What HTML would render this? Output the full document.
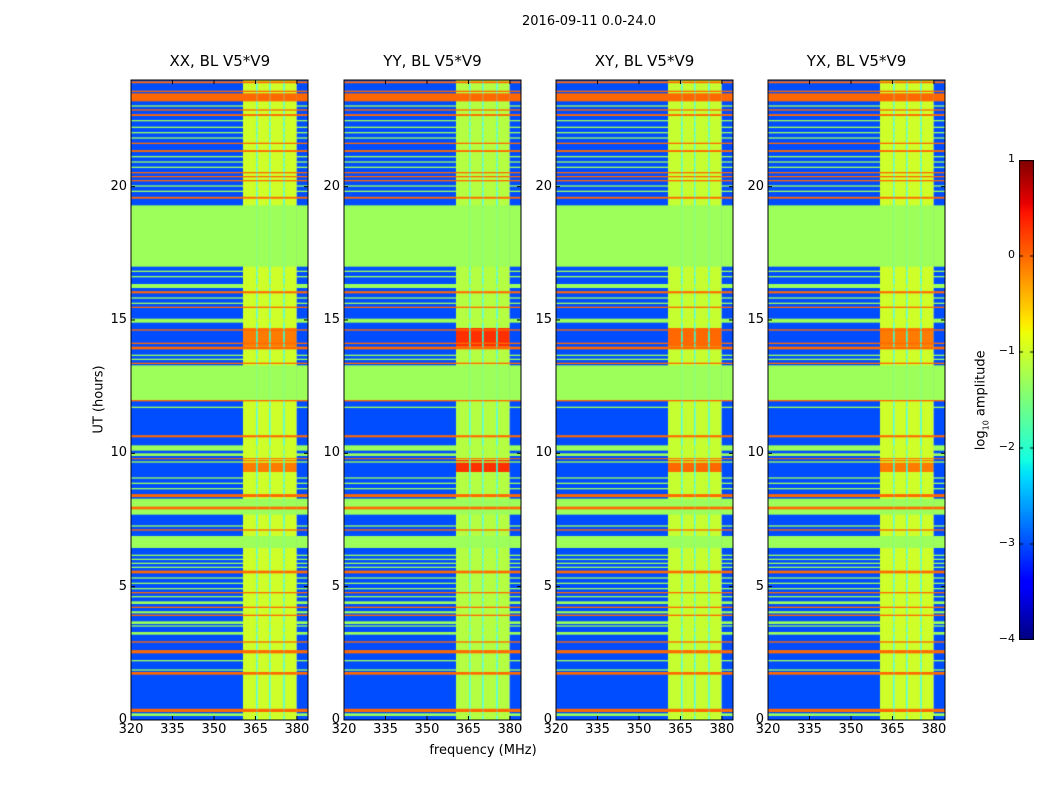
<!DOCTYPE html>
<html><head><meta charset="utf-8">
<style>
body{margin:0;background:#fff;width:1050px;height:800px;overflow:hidden;position:relative;font-family:"DejaVu Sans","Liberation Sans",sans-serif;color:#000}
.t{position:absolute;white-space:nowrap}
canvas{position:absolute}
</style></head><body>
<div class="t" style="left:489px;top:14px;width:200px;text-align:center;font-size:13px">2016-09-11 0.0-24.0</div>
<div class="t" style="left:49px;top:392px;width:100px;text-align:center;font-size:13px;transform:rotate(-90deg)">UT (hours)</div>
<div class="t" style="left:383px;top:743px;width:200px;text-align:center;font-size:13px">frequency (MHz)</div>
<div class="t" style="left:922px;top:392px;width:120px;text-align:center;font-size:13px;transform:rotate(-90deg)">log<sub style="font-size:8px">10</sub> amplitude</div>
<div id="root"></div>
<script>
// ---- data ----
const panelTitles = ["XX, BL V5*V9","YY, BL V5*V9","XY, BL V5*V9","YX, BL V5*V9"];
const panelLefts = [131,344,556,768];
const xTicks = [320,335,350,365,380];
const yTicks = [0,5,10,15,20];
const cbTicks = [1,0,-1,-2,-3,-4];
const bands = [[360.5,365.3],[365.8,370.0],[370.5,375.1],[375.6,379.9]];
const noiseLevel = -3.0;
const gapLevel = -2.1;
const bandLevel = [-1.0,-1.15,-1.05,-1.0];
const hotLevel = [-0.1,0.3,0.0,-0.1];
// segments: [startHour, endHour, type]  g=green line, G=green block, o=orange, h=hot band
const segments = [
[0.15,0.25,'g'],[0.3,0.42,'o'],[1.7,1.8,'o'],[1.85,1.9,'g'],[2.2,2.25,'g'],[2.5,2.62,'o'],[2.9,2.95,'o'],
[3.2,3.3,'g'],[3.5,3.55,'g'],[3.6,3.7,'g'],[3.9,3.95,'o'],[4.0,4.08,'g'],[4.2,4.25,'o'],[4.35,4.45,'g'],
[4.6,4.65,'g'],[4.75,4.8,'o'],[4.9,4.95,'g'],[5.1,5.15,'g'],[5.3,5.35,'g'],[5.5,5.6,'o'],[5.7,5.75,'g'],
[5.85,5.9,'g'],[6.0,6.05,'g'],[6.15,6.2,'g'],[6.45,6.9,'G'],[7.1,7.15,'o'],[7.25,7.3,'g'],[7.7,8.3,'G'],
[7.9,8.0,'o'],[8.36,8.47,'o'],[8.65,8.7,'g'],[8.85,8.9,'g'],[9.05,9.1,'g'],[9.3,9.75,'h'],[9.65,9.7,'g'],
[9.78,9.82,'o'],[9.9,10.0,'g'],[10.1,10.3,'g'],[10.6,10.68,'o'],[11.7,11.75,'g'],[11.95,12.0,'o'],
[12.0,13.3,'G'],[13.35,13.4,'o'],[13.5,13.55,'g'],[13.65,13.7,'g'],[14.0,14.7,'h'],[13.9,14.0,'o'],
[14.1,14.15,'o'],[14.6,14.65,'o'],[14.9,15.05,'g'],[15.45,15.5,'o'],[15.6,15.65,'g'],[15.8,15.85,'g'],
[16.0,16.08,'o'],[16.2,16.35,'g'],[16.6,16.65,'g'],[16.8,16.85,'g'],[17.0,19.3,'G'],[19.55,19.62,'o'],
[19.8,19.85,'g'],[20.0,20.05,'g'],[20.2,20.25,'o'],[20.35,20.4,'o'],[20.5,20.55,'o'],[20.7,20.75,'g'],
[20.9,20.95,'g'],[21.1,21.15,'g'],[21.3,21.37,'o'],[21.6,21.65,'o'],[21.8,21.85,'g'],[22.0,22.05,'g'],
[22.2,22.25,'g'],[22.45,22.5,'g'],[22.65,22.72,'o'],[22.85,22.9,'o'],[23.0,23.05,'g'],[23.2,23.5,'o'],
[23.55,23.6,'o'],[23.88,23.95,'o']
];
const greenLevel = -1.3, orangeLevel = 0.0;

// ---- scales ----
const TOP=80, H=640, W=177, F0=320, F1=384, T0=0, T1=24;
const xs = f => (f-F0)/(F1-F0)*W;
const ys = h => H - (h-T0)/(T1-T0)*H;
const VMIN=-4, VMAX=1;
const JR=[[0,0],[0.35,0],[0.66,1],[0.89,1],[1,0.5]];
const JG=[[0,0],[0.125,0],[0.375,1],[0.64,1],[0.91,0],[1,0]];
const JB=[[0,0.5],[0.11,1],[0.34,1],[0.65,0],[1,0]];
function interp(seg,t){for(let i=1;i<seg.length;i++){if(t<=seg[i][0]){const a=seg[i-1],b=seg[i];return a[1]+(b[1]-a[1])*(t-a[0])/(b[0]-a[0]);}}return seg[seg.length-1][1];}
function jet(v){
  const t=Math.max(0,Math.min(1,(v-VMIN)/(VMAX-VMIN)));
  return `rgb(${Math.round(interp(JR,t)*255)},${Math.round(interp(JG,t)*255)},${Math.round(interp(JB,t)*255)})`;
}
const root=document.getElementById('root');
function txt(name,x,y,s,align,size){
  const d=document.createElement('div');d.className='t';
  
  
  d.style.fontSize=(size||13)+'px';
  d.style.top=(y-8)+'px';
  if(align==='r'){d.style.left=(x-60)+'px';d.style.width='60px';d.style.textAlign='right';}
  else {d.style.left=(x-50)+'px';d.style.width='100px';d.style.textAlign='center';}
  d.textContent=s;root.appendChild(d);
}
function cellVal(type,cls,p){
  if(type==='o') return orangeLevel;
  if(type==='G') return greenLevel;
  if(type==='g') return cls==='band'?bandLevel[p]:greenLevel;
  if(type==='h') return cls==='band'?hotLevel[p]:(cls==='gap'?gapLevel:noiseLevel);
  return cls==='band'?bandLevel[p]:(cls==='gap'?gapLevel:noiseLevel);
}
panelTitles.forEach((title,p)=>{
  const L=panelLefts[p];
  const cv=document.createElement('canvas');
  cv.width=W;cv.height=H;cv.style.left=L+'px';cv.style.top=TOP+'px';
  
  
  root.appendChild(cv);
  const ctx=cv.getContext('2d');
  const regions=[];
  let prev=F0;
  bands.forEach((b,i)=>{
    regions.push([prev,b[0],i===0?'noise':'gap']);
    regions.push([b[0],b[1],'band']);
    prev=b[1];
  });
  regions.push([prev,F1,'noise']);
  const rows=[[T0,T1,'n']].concat(segments);
  rows.forEach(s=>{
    regions.forEach(r=>{
      ctx.fillStyle=jet(cellVal(s[2],r[2],p));
      const x0=xs(r[0]),x1=xs(r[1]),y0=ys(s[1]),y1=ys(s[0]);
      ctx.fillRect(x0,y0,x1-x0,Math.max(1,y1-y0));
    });
  });
  const svgNS='http://www.w3.org/2000/svg';
  const sv=document.createElementNS(svgNS,'svg');
  sv.setAttribute('width',W+2);sv.setAttribute('height',H+2);
  sv.style.position='absolute';sv.style.left=(L-1)+'px';sv.style.top=(TOP-1)+'px';
  
  
  let h=`<rect x="1" y="1" width="${W}" height="${H}" fill="none" stroke="#000" stroke-width="1"/>`;
  xTicks.forEach(t=>{const x=xs(t)+1;h+=`<line x1="${x}" y1="1" x2="${x}" y2="5" stroke="#000"/><line x1="${x}" y1="${H+1}" x2="${x}" y2="${H-3}" stroke="#000"/>`;});
  yTicks.forEach(t=>{const y=ys(t)+1;h+=`<line x1="1" y1="${y}" x2="5" y2="${y}" stroke="#000"/><line x1="${W+1}" y1="${y}" x2="${W-3}" y2="${y}" stroke="#000"/>`;});
  sv.innerHTML=h;root.appendChild(sv);
  txt('panel-title-'+(p+1),L+W/2,TOP-20,title,'c',15);
  xTicks.forEach(t=>txt('x-tick-label',L+xs(t),TOP+H+10,String(t),'c',13));
  yTicks.forEach(t=>txt('y-tick-label',L-4,TOP+ys(t),String(t),'r',13));
});
// colorbar
const CBL=1019,CBT=160,CBW=15,CBH=480;
const cb=document.createElement('canvas');cb.width=CBW;cb.height=CBH;
cb.style.left=CBL+'px';cb.style.top=CBT+'px';


root.appendChild(cb);
const cctx=cb.getContext('2d');
for(let i=0;i<CBH;i++){cctx.fillStyle=jet(VMAX-(i+0.5)/CBH*(VMAX-VMIN));cctx.fillRect(0,i,CBW,1);}
cctx.strokeStyle='#000';cctx.strokeRect(0.5,0.5,CBW-1,CBH-1);
cbTicks.forEach(t=>{
  const y=(VMAX-t)/(VMAX-VMIN)*CBH;
  cctx.beginPath();cctx.moveTo(0,y);cctx.lineTo(4,y);cctx.moveTo(CBW,y);cctx.lineTo(CBW-4,y);cctx.stroke();
  txt('colorbar-tick-label',CBL-4,CBT+y,(t<0?'\u2212':'')+Math.abs(t),'r',11);
});
</script>
</body></html>
